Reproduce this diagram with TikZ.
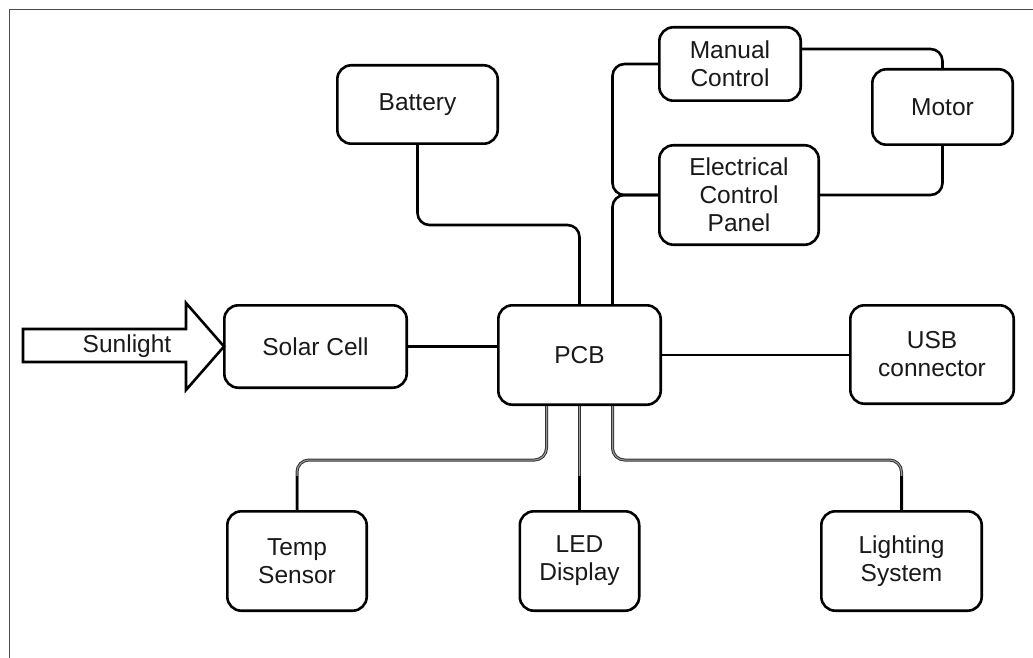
\documentclass[tikz,border=0pt]{standalone}
\usepackage{fontspec}
\setmainfont{Liberation Sans}
\usetikzlibrary{calc}
\begin{document}
\begin{tikzpicture}[x=1pt,y=-1pt,
  box/.style={draw, line width=2.6pt, rounded corners=14pt, align=center, inner sep=0pt, text=black!90, font=\fontsize{24.5}{28}\selectfont},
  wire/.style={line width=2.6pt, rounded corners=12pt},
  ghost/.style={draw=black!80, line width=1pt, double=black!40, double distance=1pt, rounded corners=12pt},
  lbl/.style={inner sep=0pt, text=black!90, font=\fontsize{24.5}{28}\selectfont}]
\useasboundingbox (0,0) rectangle (1033,658);
\draw[black!70, line width=1.5pt] (9.5,658) -- (9.5,9.5) -- (1033,9.5);

% boxes
\node[box, minimum width=160.4pt, minimum height=78.4pt] (battery) at (417.5,104.5) {Battery};
\node[box, minimum width=141.4pt, minimum height=73.4pt] (manual) at (730,64) {Manual\\Control};
\node[box, minimum width=140.4pt, minimum height=75.4pt] (motor) at (942.5,107) {Motor};
\node[box, minimum width=159.4pt, minimum height=99.4pt] (ecp) at (739,195) {Electrical\\Control\\Panel};
\node[box, minimum width=182.4pt, minimum height=82.4pt] (solar) at (315.5,346.5) {Solar Cell};
\node[box, minimum width=162.4pt, minimum height=99.4pt] (pcb) at (579.5,355) {PCB};
\node[box, minimum width=163.4pt, minimum height=98.4pt] (usb) at (932,354.5) {USB\\connector};
\node[box, minimum width=139.4pt, minimum height=99.4pt] (temp) at (297,561) {Temp\\Sensor};
\node[box, minimum width=119.4pt, minimum height=99.4pt] (led) at (579.5,561) {LED\\Display};
\node[box, minimum width=160.4pt, minimum height=99.4pt] (light) at (901.5,561) {Lighting\\System};

% sunlight arrow
\draw[line width=2.6pt, line join=miter] (23,329) -- (186,329) -- (186,303) -- (224,346.5) -- (186,390) -- (186,362) -- (23,362) -- cycle;
\node[lbl] (sun) at (127,346) {Sunlight};

% connectors above
\coordinate (j) at (612.5,195);
\draw[wire] (battery.south) -- ++(0,80) -| (pcb.north);
\draw[wire] (manual.west) -| (j) -- (ecp.west);
\draw[wire] ([xshift=33pt]pcb.north) |- (ecp.west);
\draw[wire] ([yshift=15pt]manual.east) -| (motor.north);
\draw[wire] (motor.south) |- (ecp.east);
\draw[wire] (solar.east) -- (solar.east -| pcb.west);
\draw[wire] (pcb.east) -- (pcb.east -| usb.west);

% connectors below
\draw[ghost] ([xshift=-33pt]pcb.south) -- ++(0,54) -| (temp.north);
\draw[ghost] (pcb.south) -- (pcb.south |- led.north);
\draw[ghost] ([xshift=33pt]pcb.south) -- ++(0,54) -| (light.north);
\draw[wire] (temp.north) -- ++(0,-34);
\draw[wire] (led.north) -- ++(0,-34);
\draw[wire] (light.north) -- ++(0,-34);
\end{tikzpicture}
\end{document}
